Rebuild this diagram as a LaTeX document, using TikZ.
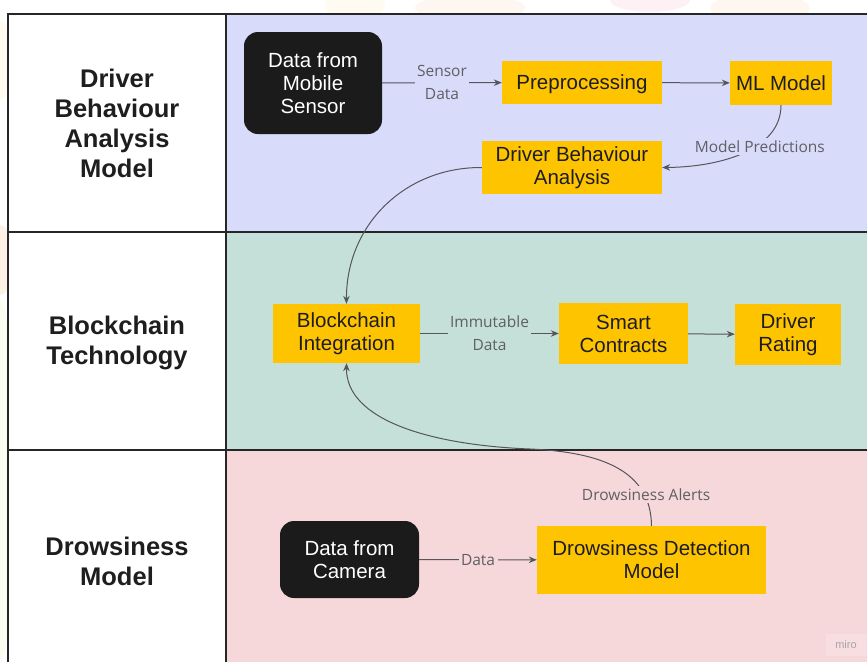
\documentclass[tikz,border=0pt]{standalone}
\usepackage{fontspec}
\setmainfont{Liberation Sans}
\newfontfamily\edgefont{Open Sans}
\usetikzlibrary{arrows.meta}

\definecolor{laneA}{RGB}{216,220,250}
\definecolor{laneB}{RGB}{197,224,216}
\definecolor{laneC}{RGB}{246,216,218}
\definecolor{frameline}{RGB}{38,38,38}
\definecolor{boxyellow}{RGB}{255,196,0}
\definecolor{boxblack}{RGB}{27,27,27}
\definecolor{nodetext}{RGB}{28,28,36}
\definecolor{linegray}{RGB}{85,85,90}
\definecolor{labelgray}{RGB}{95,95,100}
\definecolor{headtext}{RGB}{30,30,30}

\tikzset{
  procbox/.style={fill=boxyellow, inner sep=0pt, align=center, text=nodetext,
    font=\fontsize{20.5}{23}\selectfont},
  oneline/.style={text height=14.7pt, text depth=0pt},
  darkbox/.style={fill=boxblack, rounded corners=14pt, inner sep=0pt, align=center,
    text=white, font=\fontsize{20.5}{23}\selectfont},
  lanetxt/.style={align=center, text=headtext, inner sep=0pt,
    font=\fontsize{25.5}{30}\selectfont\bfseries},
  edgelbl/.style={align=center, text=labelgray, inner sep=2.5pt,
    font=\edgefont\fontsize{15.5}{23}\selectfont},
  conn/.style={draw=linegray, line width=1pt, -{Stealth[length=8pt,width=6.5pt]}},
  frame/.style={draw=frameline, line width=2pt},
  haze/.style={opacity=0.25}
}

\begin{document}
\begin{tikzpicture}[x=1pt,y=-1pt]
\useasboundingbox (0,0) rectangle (867,662);
\fill[white] (0,0) rectangle (867,662);

% faint backdrop outside the swimlane table
\begin{scope}
  \clip (0,0) rectangle (867,14);
  \fill[haze, color={rgb,255:red,255;green,240;blue,200}] (355,4) ellipse (30 and 18);
  \fill[haze, color={rgb,255:red,252;green,222;blue,196}] (470,8) ellipse (55 and 14);
  \fill[haze, color={rgb,255:red,250;green,200;blue,220}] (650,0) ellipse (40 and 12);
  \fill[haze, color={rgb,255:red,252;green,224;blue,200}] (760,8) ellipse (50 and 14);
\end{scope}
\begin{scope}
  \clip (0,0) rectangle (8,662);
  \fill[opacity=0.5, color={rgb,255:red,253;green,228;blue,206}] (0,260) ellipse (14 and 35);
  \fill[opacity=0.5, color={rgb,255:red,246;green,252;blue,224}] (0,480) ellipse (14 and 180);
  \fill[opacity=0.4, color={rgb,255:red,255;green,240;blue,214}] (0,60) ellipse (12 and 40);
\end{scope}

% swimlane backgrounds
\fill[white] (8,14) rectangle (226,662);
\fill[laneA] (226,14) rectangle (867,232);
\fill[laneB] (226,232) rectangle (867,450);
\fill[laneC] (226,450) rectangle (867,662);

% swimlane grid
\draw[frame] (8,662) -- (8,14) -- (867,14);
\draw[frame] (226,14) -- (226,662);
\draw[frame] (8,232) -- (867,232);
\draw[frame] (8,450) -- (867,450);

% lane titles
\node[lanetxt] (titleA) at (117,123) {Driver\\Behaviour\\Analysis\\Model};
\node[lanetxt] (titleB) at (117,343) {Blockchain\\Technology};
\node[lanetxt] (titleC) at (117,561) {Drowsiness\\Model};

% driver behaviour lane
\node[darkbox, minimum width=138pt, minimum height=102pt] (mobile) at (313,83) {Data from\\Mobile\\Sensor};
\node[procbox, oneline, minimum width=160pt, minimum height=43pt] (prep) at (582,82.5) {Preprocessing};
\node[procbox, oneline, minimum width=102pt, minimum height=44pt] (ml) at (781,83) {ML Model};
\node[procbox, minimum width=180pt, minimum height=53pt] (dba) at (572,167.5) {Driver Behaviour\\Analysis};

% blockchain lane
\node[procbox, minimum width=147pt, minimum height=59pt] (bi) at (346.5,333.5) {Blockchain\\Integration};
\node[procbox, minimum width=129pt, minimum height=61pt] (sc) at (623.5,333.5) {Smart\\Contracts};
\node[procbox, minimum width=106pt, minimum height=61pt] (dr) at (788,334.5) {Driver\\Rating};

% drowsiness lane
\node[darkbox, minimum width=139pt, minimum height=77pt] (cam) at (349.5,559.5) {Data from\\Camera};
\node[procbox, minimum width=229pt, minimum height=68pt] (ddm) at (651.5,560) {Drowsiness Detection\\Model};

% connectors
\draw[conn] (mobile) -- node[edgelbl, fill=laneA] {Sensor\\Data} (prep);
\draw[conn] (prep) -- (ml);
\draw[conn] (ml.south) .. controls (781,150) and (720,167) ..
  node[pos=0.4, xshift=4pt, edgelbl, fill=laneA] {Model Predictions} (dba.east);
\draw[conn] (dba.west) .. controls (405,167) and (346,225) .. (bi.north);
\draw[conn] (bi) -- node[edgelbl, fill=laneB] {Immutable\\Data} (sc);
\draw[conn] (sc) -- (dr);
\draw[conn] (cam) -- node[edgelbl, fill=laneC] {Data} (ddm);
\draw[conn] (ddm.north) .. controls (651,470) and (600,452) ..
  node[pos=0.22, xshift=2pt, edgelbl, fill=laneC] {Drowsiness Alerts} (530,449)
  .. controls (430,445) and (346,420) .. (bi.south);

% board watermark
\fill[color={rgb,255:red,248;green,222;blue,224}] (826,634) rectangle (867,656);
\node[text={rgb,255:red,168;green,164;blue,172}, font=\fontsize{11}{13}\selectfont, inner sep=0pt] (wm) at (846,645) {miro};
\end{tikzpicture}
\end{document}
